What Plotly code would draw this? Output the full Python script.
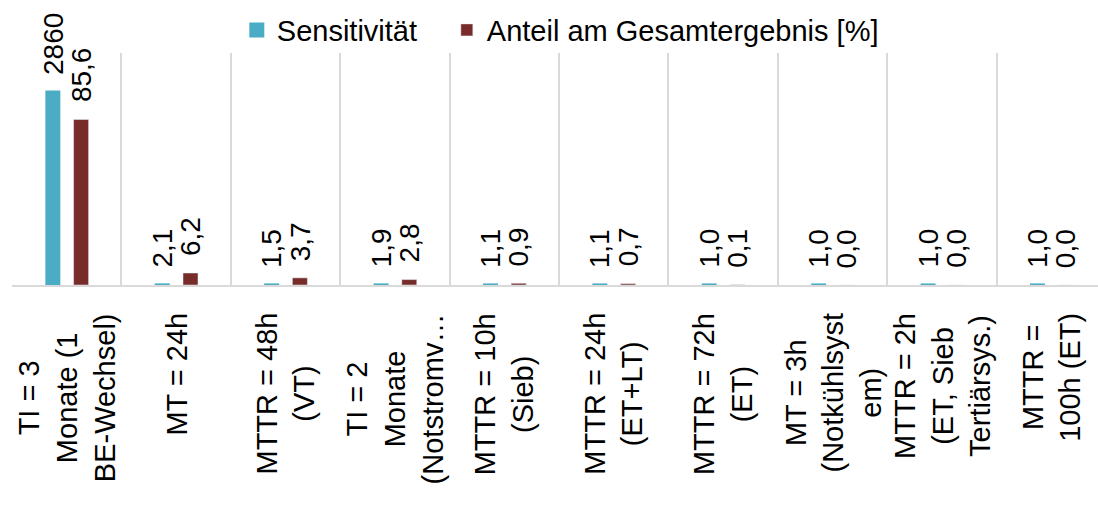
import plotly.graph_objects as go

# Parameter variations and their results
categories = [
    "TI = 3\nMonate (1\nBE-Wechsel)",
    "MT = 24h",
    "MTTR = 48h\n(VT)",
    "TI = 2\nMonate\n(Notstromv…",
    "MTTR = 10h\n(Sieb)",
    "MTTR = 24h\n(ET+LT)",
    "MTTR = 72h\n(ET)",
    "MT = 3h\n(Notkühlsyst\nem)",
    "MTTR = 2h\n(ET, Sieb\nTertiärsys.)",
    "MTTR =\n100h (ET)",
]
sensitivitaet = [2860, 2.1, 1.5, 1.9, 1.1, 1.1, 1.0, 1.0, 1.0, 1.0]
anteil = [85.6, 6.2, 3.7, 2.8, 0.9, 0.7, 0.1, 0.0, 0.0, 0.0]

name_sens = "Sensitivität"
name_anteil = "Anteil am Gesamtergebnis [%]"

COL_SENS = "#4BACC6"
COL_ANT = "#772C2A"
GRID = "#D9D9D9"
FONT = "Liberation Sans, Arial, sans-serif"

CAT_PX = 109.4          # width of one category in pixels
BAR_W = 0.137
SENS_LINE = 3           # outline keeps the very small bars visible
OFF_SENS = -0.195
OFF_ANT = 0.063

x = list(range(len(categories)))


def fmt(v):
    return f"{v:.0f}" if v >= 100 else f"{v:.1f}".replace(".", ",")


fig = go.Figure()
fig.add_trace(go.Bar(
    x=x, y=sensitivitaet, name=name_sens, marker_color=COL_SENS,
    marker_line=dict(color=COL_SENS, width=SENS_LINE),
    width=BAR_W - SENS_LINE / CAT_PX, offset=OFF_SENS + SENS_LINE / CAT_PX / 2,
    yaxis="y", legend="legend",
))
fig.add_trace(go.Bar(
    x=x, y=anteil, name=name_anteil, marker_color=COL_ANT,
    width=BAR_W, offset=OFF_ANT, yaxis="y2", legend="legend2",
))

annotations = []
# value labels above each bar, rotated
for i in x:
    annotations.append(dict(
        x=i + OFF_SENS + BAR_W / 2, y=sensitivitaet[i], xref="x", yref="y",
        text=fmt(sensitivitaet[i]), textangle=-90, showarrow=False,
        xanchor="center", yanchor="bottom", yshift=15,
        font=dict(family=FONT, size=28, color="#000000"),
    ))
    annotations.append(dict(
        x=i + OFF_ANT + BAR_W / 2, y=anteil[i], xref="x", yref="y2",
        text=fmt(anteil[i]), textangle=-90, showarrow=False,
        xanchor="center", yanchor="bottom", yshift=15,
        font=dict(family=FONT, size=28, color="#000000"),
    ))
# category labels below the axis
for i, c in enumerate(categories):
    annotations.append(dict(
        x=i, y=0, xref="x", yref="paper",
        text=c.replace("\n", "<br>"), textangle=-90, showarrow=False,
        xanchor="center", yanchor="top", yshift=-26, align="center",
        font=dict(family=FONT, size=29, color="#000000"),
    ))

legend_style = dict(
    orientation="h", xanchor="left", y=1.099, yanchor="middle",
    font=dict(family=FONT, size=29, color="#000000"),
    bgcolor="rgba(0,0,0,0)",
)

fig.update_layout(
    width=1098, height=509, autosize=False,
    margin=dict(l=12, r=0, t=53, b=224),
    paper_bgcolor="white", plot_bgcolor="white",
    barmode="overlay",
    showlegend=True,
    legend=dict(x=0.207, **legend_style),
    legend2=dict(x=0.4004, **legend_style),
    xaxis=dict(
        range=[-0.5, -0.5 + 1086 / CAT_PX], tickmode="array",
        tickvals=[k - 0.5 for k in range(len(categories) + 1)],
        showticklabels=False, ticks="",
        showgrid=True, gridcolor=GRID, gridwidth=1.5,
        showline=True, linecolor=GRID, linewidth=1.5,
        zeroline=False,
    ),
    yaxis=dict(range=[0, 3440], visible=False, showgrid=False, zeroline=False),
    yaxis2=dict(range=[0, 120], overlaying="y", side="right", visible=False,
                showgrid=False, zeroline=False),
    annotations=annotations,
)

fig.write_html("out.html")
